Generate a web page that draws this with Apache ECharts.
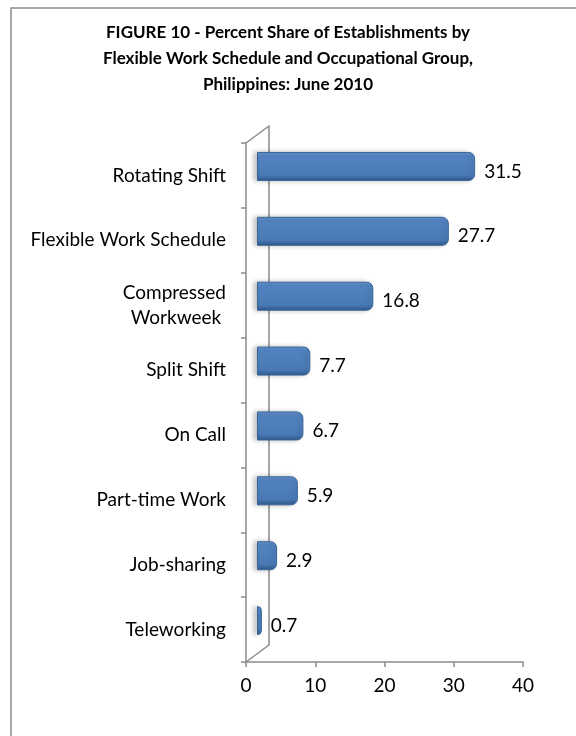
<!DOCTYPE html>
<html>
<head>
<meta charset="utf-8">
<script src="https://cdn.jsdelivr.net/npm/echarts@6/dist/echarts.min.js"></script>
<style>
  html, body { margin: 0; padding: 0; background: #fff; }
  #chart { width: 576px; height: 736px; }
</style>
</head>
<body>
<div id="chart"></div>
<script>
// data, top to bottom as in the figure
var categories = ['Rotating Shift', 'Flexible Work Schedule', 'Compressed\nWorkweek ',
    'Split Shift', 'On Call', 'Part-time Work', 'Job-sharing', 'Teleworking'];
var shares = [31.5, 27.7, 16.8, 7.7, 6.7, 5.9, 2.9, 0.7];
var xTicks = [0, 40, 10]; // min, max, interval

var titleText = 'FIGURE 10 - Percent Share of Establishments by\n' +
    'Flexible Work Schedule and Occupational Group,\nPhilippines: June 2010';

var W = 576, H = 736;
var font = 'Lato, "Open Sans", sans-serif';
var axisGray = '#8a8a8a';

// front plane of the 3D box, and the depth offset of the back wall
var front = { left: 246, right: 53, top: 143, bottom: 74 };
var depth = { dx: 23, dy: 17 };
// bars sit half way into the box
var mid = { dx: 11, dy: 9 };

function shifted(g, d) {
    return { left: g.left + d.dx, right: g.right - d.dx, top: g.top - d.dy, bottom: g.bottom + d.dy };
}
var gBars = shifted(front, mid);
var gBack = shifted(front, depth);

var chart = echarts.init(document.getElementById('chart'));

var barColor = new echarts.graphic.LinearGradient(0, 0, 0, 1, [
    { offset: 0, color: '#6b98d0' },
    { offset: 0.12, color: '#5283c0' },
    { offset: 0.8, color: '#4a7ab6' },
    { offset: 1, color: '#2f5b8f' }
]);

chart.setOption({
    animation: false,
    title: {
        text: titleText,
        left: 'center',
        top: 15,
        textStyle: { fontFamily: font, fontSize: 17, fontWeight: 'bold', color: '#000', lineHeight: 26 }
    },
    grid: [
        Object.assign({}, front),
        Object.assign({}, gBars),
        Object.assign({}, gBack)
    ],
    xAxis: [
        {
            type: 'value', gridIndex: 0, min: xTicks[0], max: xTicks[1], interval: xTicks[2],
            axisLine: { show: true, lineStyle: { color: axisGray, width: 1.5 } },
            axisTick: { show: true, length: 5, lineStyle: { color: axisGray, width: 1.5 } },
            splitLine: { show: false },
            axisLabel: { fontFamily: font, fontSize: 19, color: '#000', margin: 14 }
        },
        { type: 'value', gridIndex: 1, min: xTicks[0], max: xTicks[1], show: false },
        { type: 'value', gridIndex: 2, min: xTicks[0], max: xTicks[1], show: false }
    ],
    yAxis: [
        {
            type: 'category', gridIndex: 0, data: categories, inverse: true,
            axisLine: { show: true, lineStyle: { color: axisGray, width: 1.5 } },
            axisTick: { show: true, length: 5, lineStyle: { color: axisGray, width: 1.5 } },
            axisLabel: { fontFamily: font, fontSize: 19, color: '#000', margin: 20, lineHeight: 25 }
        },
        { type: 'category', gridIndex: 1, data: categories, inverse: true, show: false },
        {
            type: 'category', gridIndex: 2, data: categories, inverse: true,
            axisLine: { show: true, lineStyle: { color: axisGray, width: 1.5 } },
            axisTick: { show: false }, axisLabel: { show: false }
        }
    ],
    series: [{
        type: 'bar',
        xAxisIndex: 1,
        yAxisIndex: 1,
        data: shares,
        barWidth: 29,
        itemStyle: {
            color: barColor,
            borderColor: '#3a6597',
            borderWidth: 1,
            borderRadius: [0, 6, 6, 0],
            shadowColor: 'rgba(0,0,0,0.25)',
            shadowBlur: 5,
            shadowOffsetX: -3
        },
        label: {
            show: true, position: 'right', distance: 9, offset: [0, 5],
            fontFamily: font, fontSize: 19, color: '#000'
        }
    }],
    graphic: [
        // outer frame of the figure (cropped at right and bottom)
        { type: 'rect', shape: { x: 11, y: 8, width: W, height: H }, style: { fill: 'none', stroke: axisGray, lineWidth: 1.5 } },
        // top and floor edges of the side wall
        { type: 'line', shape: { x1: front.left, y1: front.top, x2: gBack.left, y2: gBack.top },
          style: { stroke: axisGray, lineWidth: 1.5 } },
        { type: 'line', shape: { x1: front.left, y1: H - front.bottom, x2: gBack.left, y2: H - gBack.bottom },
          style: { stroke: axisGray, lineWidth: 1.5 } }
    ]
});
</script>
</body>
</html>
